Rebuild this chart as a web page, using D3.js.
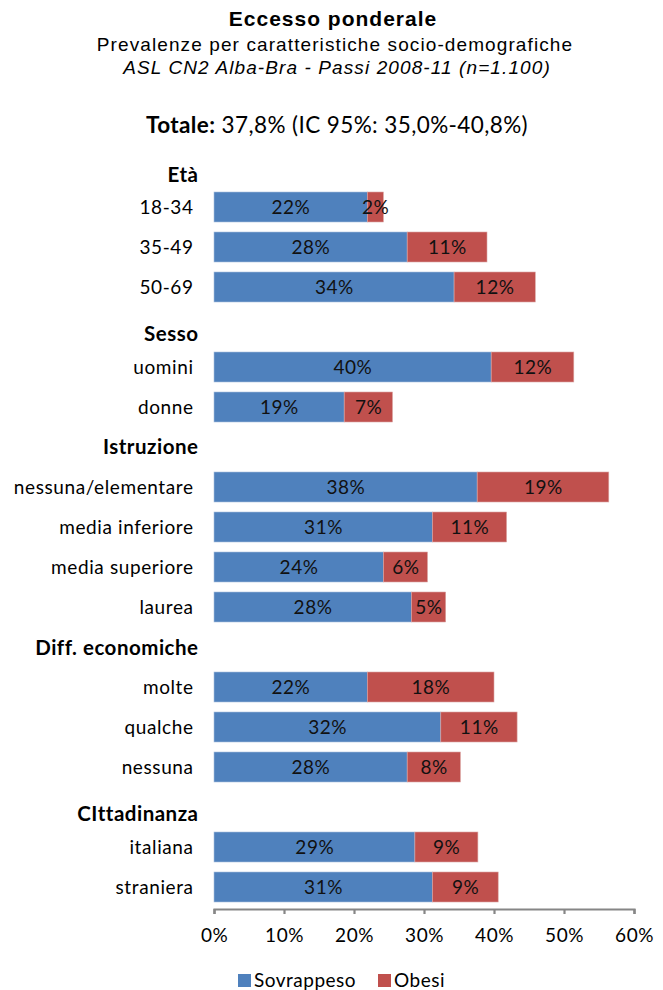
<!DOCTYPE html>
<html>
<head>
<meta charset="utf-8">
<script src="https://cdn.jsdelivr.net/npm/d3@7"></script>
<style>
  body { margin: 0; background: #fff; }
  svg { display: block; }
</style>
</head>
<body>
<script>
// ---- data ----
const groups = ["Età", "Sesso", "Istruzione", "Diff. economiche", "CIttadinanza"];
const categories = ["18-34", "35-49", "50-69", "uomini", "donne",
  "nessuna/elementare", "media inferiore", "media superiore", "laurea",
  "molte", "qualche", "nessuna", "italiana", "straniera"];
const categoryGroup = [0, 0, 0, 1, 1, 2, 2, 2, 2, 3, 3, 3, 4, 4];
const sovrappeso = [21.9, 27.6, 34.3, 39.6, 18.6, 37.6, 31.2, 24.2, 28.2, 21.9, 32.4, 27.6, 28.7, 31.2];
const obesi = [2.3, 11.4, 11.6, 11.8, 6.9, 18.8, 10.6, 6.3, 4.9, 18.1, 10.9, 7.6, 9.0, 9.4];
const seriesNames = ["Sovrappeso", "Obesi"];
const xTicks = [0, 10, 20, 30, 40, 50, 60];

// ---- layout / style ----
const W = 663, H = 990;
const colors = ["#4F81BD", "#C0504D"];
const font = "Lato, 'Noto Sans', sans-serif";
const arial = "Arial, 'Liberation Sans', sans-serif";
const headerDy = [15, 14, 7, 8, 14];

const svg = d3.select("body").append("svg").attr("width", W).attr("height", H);

// titles
svg.append("text").attr("x", 333).attr("y", 26).attr("text-anchor", "middle")
  .attr("font-family", arial).attr("font-weight", "bold")
  .attr("font-size", 21).attr("letter-spacing", 1).text("Eccesso ponderale");
svg.append("text").attr("x", 335).attr("y", 51).attr("text-anchor", "middle")
  .attr("font-family", arial).attr("letter-spacing", 1.1)
  .attr("font-size", 19).text("Prevalenze per caratteristiche socio-demografiche");
svg.append("text").attr("x", 337).attr("y", 74).attr("text-anchor", "middle")
  .attr("font-family", arial).attr("font-style", "italic").attr("letter-spacing", 1.1)
  .attr("font-size", 19).text("ASL CN2 Alba-Bra - Passi 2008-11 (n=1.100)");
const tot = svg.append("text").attr("x", 337).attr("y", 133).attr("text-anchor", "middle")
  .attr("font-family", font).attr("font-size", 22.5).attr("letter-spacing", 0.4);
tot.append("tspan").attr("font-weight", "bold").text("Totale:");
tot.append("tspan").text(" 37,8% (IC 95%:  35,0%-40,8%)");

// rows (group headers + categories)
const rows = [];
groups.forEach((g, gi) => {
  rows.push({ key: "h" + gi, header: true, gi: gi, label: g });
  categories.forEach((c, ci) => {
    if (categoryGroup[ci] === gi) rows.push({ key: "c" + ci, header: false, label: c, s: sovrappeso[ci], o: obesi[ci] });
  });
});

const x = d3.scaleLinear().domain([0, 60]).range([214, 634]);
const y = d3.scaleBand().domain(rows.map(r => r.key)).range([147, 907])
  .paddingInner(0.25).paddingOuter(0.125);

const bars = rows.filter(r => !r.header);
const g = svg.append("g");

// blue
g.selectAll("rect.s").data(bars).join("rect").attr("class", "s")
  .attr("x", x(0)).attr("y", d => y(d.key))
  .attr("width", d => x(d.s) - x(0)).attr("height", y.bandwidth())
  .attr("fill", colors[0]).attr("stroke", "#a9c0de").attr("stroke-width", 0.6);
// red
g.selectAll("rect.o").data(bars).join("rect").attr("class", "o")
  .attr("x", d => x(d.s)).attr("y", d => y(d.key))
  .attr("width", d => x(d.s + d.o) - x(d.s)).attr("height", y.bandwidth())
  .attr("fill", colors[1]).attr("stroke", "#dba6a4").attr("stroke-width", 0.6);

// value labels
const lblStyle = sel => sel.attr("text-anchor", "middle").attr("font-family", font)
  .attr("font-size", 19).attr("letter-spacing", 0.5).attr("fill", "#111");
g.selectAll("text.ls").data(bars).join("text").attr("class", "ls")
  .attr("x", d => (x(0) + x(d.s)) / 2 + 0.3).attr("y", d => y(d.key) + y.bandwidth() / 2 + 7)
  .call(lblStyle).text(d => Math.round(d.s) + "%");
g.selectAll("text.lo").data(bars).join("text").attr("class", "lo")
  .attr("x", d => (x(d.s) + x(d.s + d.o)) / 2 + 0.3).attr("y", d => y(d.key) + y.bandwidth() / 2 + 7)
  .call(lblStyle).text(d => Math.round(d.o) + "%");

// category labels
g.selectAll("text.cat").data(rows).join("text").attr("class", "cat")
  .attr("x", d => d.header ? 198.5 : 193.6)
  .attr("y", d => y(d.key) + y.bandwidth() / 2 + (d.header ? headerDy[d.gi] : 7))
  .attr("text-anchor", "end").attr("font-family", font)
  .attr("font-weight", d => d.header ? "bold" : "normal")
  .attr("letter-spacing", d => d.header ? 0.5 : 0.6)
  .attr("font-size", d => d.header ? 20.5 : 19).attr("fill", "#000")
  .text(d => d.label);

// x axis
const axis = svg.append("g").attr("transform", "translate(0,909)")
  .call(d3.axisBottom(x).tickValues(xTicks).tickSize(5).tickFormat(d => d + "%"));
axis.select(".domain").attr("stroke", "#868686").attr("stroke-width", 2.2);
axis.selectAll(".tick line").attr("stroke", "#868686").attr("stroke-width", 2.2);
axis.selectAll(".tick text").attr("font-family", font).attr("font-size", 19)
  .attr("letter-spacing", 0.5).attr("fill", "#000").attr("y", 33).attr("dy", 0);

// legend
const legend = svg.append("g");
const legX = [238, 378];
seriesNames.forEach((n, i) => {
  legend.append("rect").attr("x", legX[i]).attr("y", 974).attr("width", 13).attr("height", 13).attr("fill", colors[i]);
  legend.append("text").attr("x", legX[i] + 16).attr("y", 987).attr("font-family", font)
    .attr("font-size", 19).attr("letter-spacing", 0.5).text(n);
});
</script>
</body>
</html>
